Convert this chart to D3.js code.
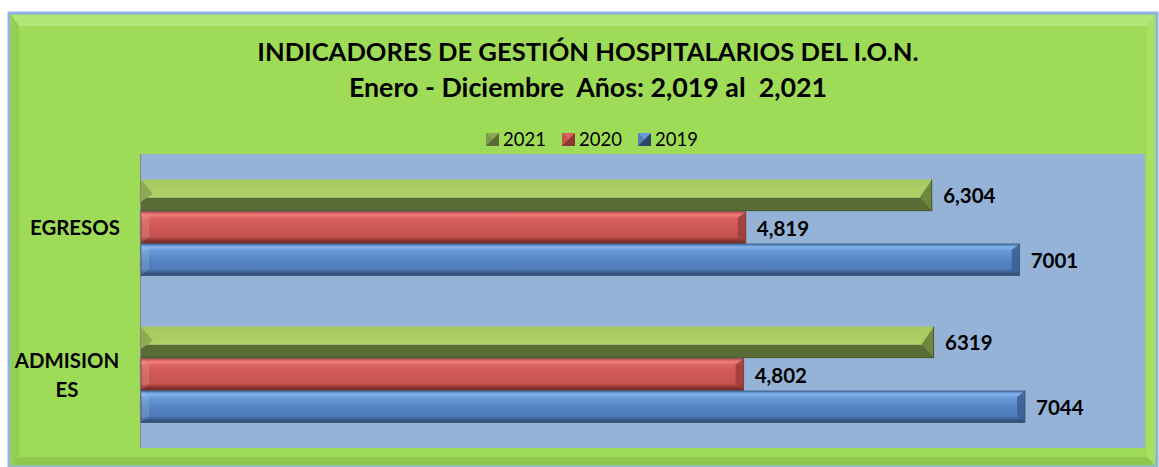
<!DOCTYPE html>
<html><head><meta charset="utf-8">
<script src="https://cdn.jsdelivr.net/npm/d3@7"></script>
<style>body{margin:0;background:#fff}svg{display:block}text{white-space:pre}</style>
</head><body>
<script>
const categories = ["EGRESOS", "ADMISIONES"];
const categoryLines = [["EGRESOS"], ["ADMISION", "ES"]];
const seriesNames = ["2021", "2020", "2019"];
const values2021 = [6304, 6319];
const values2020 = [4819, 4802];
const values2019 = [7001, 7044];
const labels2021 = ["6,304", "6319"];
const labels2020 = ["4,819", "4,802"];
const labels2019 = ["7001", "7044"];
const titleLines = ["INDICADORES DE GESTIÓN HOSPITALARIOS DEL I.O.N.", "Enero - Diciembre  Años: 2,019 al  2,021"];

const W = 1159, H = 467;
const svg = d3.select("body").append("svg").attr("width", W).attr("height", H);
const defs = svg.append("defs");
const FONT = "Lato, 'Open Sans', sans-serif";

function vgrad(id, stops) {
  const g = defs.append("linearGradient").attr("id", id).attr("x1", 0).attr("y1", 0).attr("x2", 0).attr("y2", 1);
  stops.forEach(s => g.append("stop").attr("offset", s[0]).attr("stop-color", s[1]));
}
vgrad("gRed", [[0, "#c9504c"], [0.1, "#f07e7a"], [0.22, "#d9625e"], [0.5, "#cd5753"], [0.8, "#c55450"], [0.9, "#8e3634"], [1, "#6e2c2a"]]);
vgrad("gBlue", [[0, "#4673ad"], [0.1, "#86b4ee"], [0.22, "#6a9ad6"], [0.5, "#5685c4"], [0.8, "#4f7dba"], [0.9, "#3a5e8e"], [1, "#2c4769"]]);
vgrad("gGreenTop", [[0, "#a6c95f"], [1, "#b0d068"]]);

// frame
svg.append("rect").attr("x", 9).attr("y", 13).attr("width", 1148).attr("height", 454)
  .attr("fill", "#9edc58").attr("stroke", "#8fb4e3").attr("stroke-width", 3);
svg.append("path").attr("d", "M11,15 L1155,15 L1147,26 L19,26 Z").attr("fill", "#b2e77a").attr("opacity", 0.85);
svg.append("path").attr("d", "M11,15 L19,26 L19,457 L11,465 Z").attr("fill", "#93cf4f");
svg.append("path").attr("d", "M11,465 L19,457 L1147,457 L1155,465 Z").attr("fill", "#8ec74b");
svg.append("path").attr("d", "M1155,15 L1147,26 L1147,457 L1155,465 Z").attr("fill", "#a6e164");

// title
const title = svg.append("text").attr("text-anchor", "middle").attr("font-family", FONT)
  .attr("font-weight", "bold").attr("fill", "#000");
title.append("tspan").attr("x", 588).attr("y", 61).attr("font-size", 25.6).text(titleLines[0]);
title.append("tspan").attr("x", 588).attr("y", 97).attr("font-size", 26.8).text(titleLines[1]);

// plot area
const plot = {x0: 140, x1: 1145, y0: 154, y1: 448};
svg.append("rect").attr("x", plot.x0).attr("y", plot.y0).attr("width", plot.x1 - plot.x0).attr("height", plot.y1 - plot.y0)
  .attr("fill", "#95b3d7");
svg.append("line").attr("x1", plot.x0 + 0.5).attr("x2", plot.x0 + 0.5).attr("y1", plot.y0).attr("y2", plot.y1)
  .attr("stroke", "#8a8a8a").attr("stroke-width", 1.2);

const x = d3.scaleLinear().domain([0, 8000]).range([plot.x0 + 1, plot.x1]);
const y = d3.scaleBand().domain(categories).range([plot.y0, plot.y1]).paddingInner(0.347).paddingOuter(0.1735);
const ys = d3.scaleBand().domain(seriesNames).range([0, y.bandwidth()]).paddingInner(0.02);

const series = [
  {name: "2021", vals: values2021, labels: labels2021},
  {name: "2020", vals: values2020, labels: labels2020},
  {name: "2019", vals: values2019, labels: labels2019}
];

categories.forEach((c, ci) => {
  const g = svg.append("g");
  series.forEach(s => {
    const y0 = y(c) + ys(s.name), h = ys.bandwidth();
    const xa = x(0), xb = x(s.vals[ci]);
    if (s.name === "2021") {
      const split = y0 + h * 0.58;
      g.append("rect").attr("x", xa).attr("y", y0).attr("width", xb - xa).attr("height", split - y0).attr("fill", "url(#gGreenTop)");
      g.append("rect").attr("x", xa).attr("y", split).attr("width", xb - xa).attr("height", y0 + h - split).attr("fill", "#5a6b36");
      g.append("path").attr("d", `M${xa},${y0} L${xa + 12},${y0 + h * 0.45} L${xa},${split + 4} Z`).attr("fill", "#8dab52");
      g.append("path").attr("d", `M${xb},${y0} L${xb},${y0 + h} L${xb - 12},${split} L${xb - 12},${y0 + h * 0.55} Z`).attr("fill", "#6f863f");
      g.append("line").attr("x1", xa).attr("x2", xb).attr("y1", y0 + h - 0.5).attr("y2", y0 + h - 0.5).attr("stroke", "#4c5c2c");
      g.append("line").attr("x1", xb - 0.5).attr("x2", xb - 0.5).attr("y1", y0).attr("y2", y0 + h).attr("stroke", "#4c5c2c");
    } else {
      const grad = s.name === "2020" ? "url(#gRed)" : "url(#gBlue)";
      const edge = s.name === "2020" ? "#6a2b29" : "#2b4566";
      const endFill = s.name === "2020" ? "#9c3d3a" : "#3b5f8f";
      g.append("rect").attr("x", xa).attr("y", y0).attr("width", xb - xa).attr("height", h).attr("fill", grad);
      g.append("path").attr("d", `M${xb},${y0} L${xb},${y0 + h} L${xb - 8},${y0 + h - 6} L${xb - 8},${y0 + 6} Z`).attr("fill", endFill).attr("opacity", 0.85);
      g.append("path").attr("d", `M${xa},${y0} L${xa + 8},${y0 + 6} L${xa + 8},${y0 + h - 6} L${xa},${y0 + h} Z`).attr("fill", "#ffffff").attr("opacity", 0.12);
      g.append("rect").attr("x", xa).attr("y", y0).attr("width", xb - xa).attr("height", h).attr("fill", "none").attr("stroke", edge).attr("stroke-width", 0.8).attr("opacity", 0.7);
    }
    g.append("text").attr("x", xb + 11).attr("y", y0 + h / 2 + 8).attr("font-family", FONT)
      .attr("font-weight", "bold").attr("font-size", 20.5).attr("fill", "#000").text(s.labels[ci]);
  });
  const lines = categoryLines[ci];
  const cy = y(c) + y.bandwidth() / 2;
  const lh = 29;
  lines.forEach((ln, li) => {
    svg.append("text").attr("x", lines.length > 1 ? 67 : 75).attr("y", cy + (li - (lines.length - 1) / 2) * lh + 7.5)
      .attr("text-anchor", "middle").attr("font-family", FONT).attr("font-weight", "bold").attr("font-size", 20.4)
      .attr("fill", "#000").text(ln);
  });
});

// legend
const legColors = {"2021": ["#5a6b36", "#8dab52"], "2020": ["#8e3634", "#d9625e"], "2019": ["#2c4769", "#6a9ad6"]};
const legX = [486, 562, 638];
seriesNames.forEach((n, i) => {
  const lx = legX[i], ly = 133, s = 13;
  svg.append("rect").attr("x", lx).attr("y", ly).attr("width", s).attr("height", s).attr("fill", legColors[n][0]);
  svg.append("path").attr("d", `M${lx},${ly} L${lx + s},${ly} L${lx + s / 2},${ly + s / 2} Z`).attr("fill", legColors[n][1]);
  svg.append("path").attr("d", `M${lx},${ly} L${lx + s / 2},${ly + s / 2} L${lx},${ly + s} Z`).attr("fill", legColors[n][1]).attr("opacity", 0.7);
  svg.append("text").attr("x", lx + 17).attr("y", ly + 13).attr("font-family", FONT).attr("font-size", 18.5)
    .attr("fill", "#000").text(n);
});
</script>
</body></html>
